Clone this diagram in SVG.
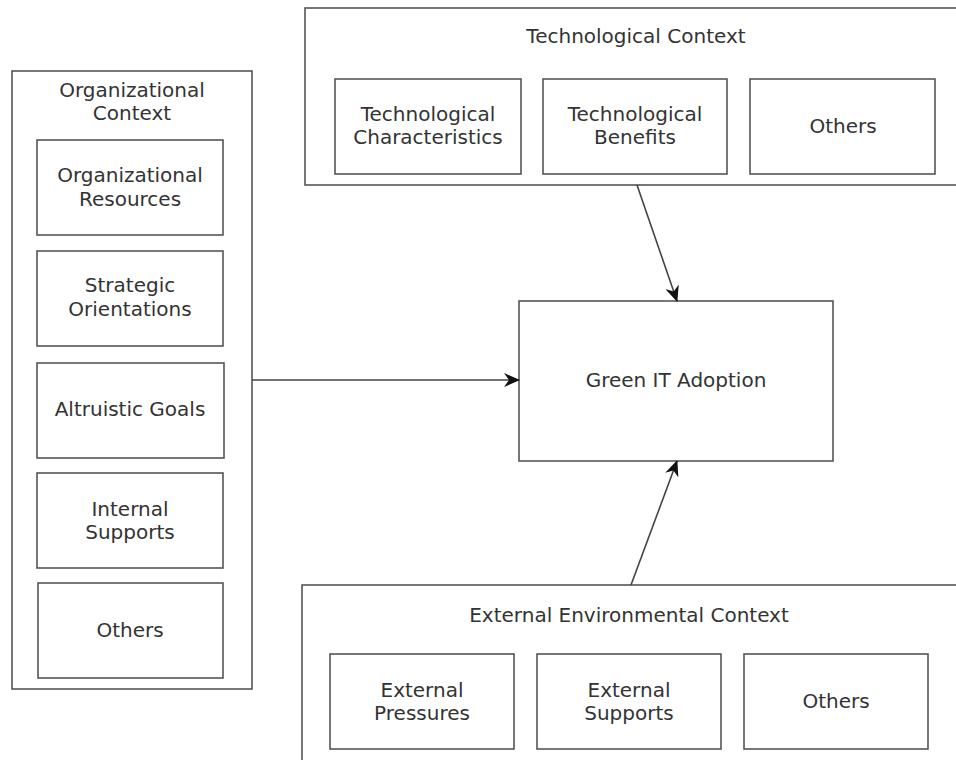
<svg xmlns="http://www.w3.org/2000/svg" width="956" height="760" viewBox="0 0 956 760">
  <style>
    .box { fill: #ffffff; stroke: #555555; stroke-width: 1.6; }
    .lbl { font-family: "DejaVu Sans", "Liberation Sans", sans-serif; font-size: 20px; fill: #333333; text-anchor: middle; }
    .edge { fill: none; stroke: #444444; stroke-width: 1.6; }
  </style>
  <defs>
    <marker id="arrow" viewBox="0 0 16 14" refX="15" refY="7" markerWidth="16" markerHeight="14" markerUnits="userSpaceOnUse" orient="auto">
      <path d="M0,0 L16,7 L0,14 L5,7 Z" fill="#111111"/>
    </marker>
  </defs>
  <rect width="956" height="760" fill="#ffffff"/>

  <!-- Organizational context -->
  <g id="org-context">
    <rect class="box" x="12" y="71" width="240" height="618"/>
    <text class="lbl" x="132" y="97">Organizational</text>
    <text class="lbl" x="132" y="120">Context</text>
  </g>
  <g id="org-resources">
    <rect class="box" x="37" y="140" width="186" height="95"/>
    <text class="lbl" x="130" y="182">Organizational</text>
    <text class="lbl" x="130" y="205.5">Resources</text>
  </g>
  <g id="org-strategic">
    <rect class="box" x="37" y="251" width="186" height="95"/>
    <text class="lbl" x="130" y="292">Strategic</text>
    <text class="lbl" x="130" y="315.5">Orientations</text>
  </g>
  <g id="org-altruistic">
    <rect class="box" x="37" y="363" width="187" height="95"/>
    <text class="lbl" x="130" y="416">Altruistic Goals</text>
  </g>
  <g id="org-internal">
    <rect class="box" x="37" y="473" width="186" height="95"/>
    <text class="lbl" x="130" y="516">Internal</text>
    <text class="lbl" x="130" y="539">Supports</text>
  </g>
  <g id="org-others">
    <rect class="box" x="38" y="583" width="185" height="95"/>
    <text class="lbl" x="130" y="637">Others</text>
  </g>

  <!-- Technological context -->
  <g id="tech-context">
    <rect class="box" x="305" y="8" width="660" height="177"/>
    <text class="lbl" x="636" y="43">Technological Context</text>
  </g>
  <g id="tech-characteristics">
    <rect class="box" x="335" y="79" width="186" height="95"/>
    <text class="lbl" x="428" y="121">Technological</text>
    <text class="lbl" x="428" y="144">Characteristics</text>
  </g>
  <g id="tech-benefits">
    <rect class="box" x="543" y="79" width="184" height="95"/>
    <text class="lbl" x="635" y="121">Technological</text>
    <text class="lbl" x="635" y="144">Benefits</text>
  </g>
  <g id="tech-others">
    <rect class="box" x="750" y="79" width="185" height="95"/>
    <text class="lbl" x="843" y="133">Others</text>
  </g>

  <!-- Outcome -->
  <g id="green-it">
    <rect class="box" x="519" y="301" width="314" height="160"/>
    <text class="lbl" x="676" y="387">Green IT Adoption</text>
  </g>

  <!-- External environmental context -->
  <g id="ext-context">
    <rect class="box" x="302" y="585" width="665" height="200"/>
    <text class="lbl" x="629" y="622">External Environmental Context</text>
  </g>
  <g id="ext-pressures">
    <rect class="box" x="330" y="654" width="184" height="95"/>
    <text class="lbl" x="422" y="697">External</text>
    <text class="lbl" x="422" y="720">Pressures</text>
  </g>
  <g id="ext-supports">
    <rect class="box" x="537" y="654" width="184" height="95"/>
    <text class="lbl" x="629" y="697">External</text>
    <text class="lbl" x="629" y="720">Supports</text>
  </g>
  <g id="ext-others">
    <rect class="box" x="744" y="654" width="184" height="95"/>
    <text class="lbl" x="836" y="708">Others</text>
  </g>

  <!-- Connectors -->
  <g id="connectors">
    <line class="edge" x1="252" y1="380" x2="519" y2="380" marker-end="url(#arrow)"/>
    <line class="edge" x1="637" y1="185" x2="677" y2="301" marker-end="url(#arrow)"/>
    <line class="edge" x1="631" y1="585" x2="677" y2="461" marker-end="url(#arrow)"/>
  </g>
</svg>
